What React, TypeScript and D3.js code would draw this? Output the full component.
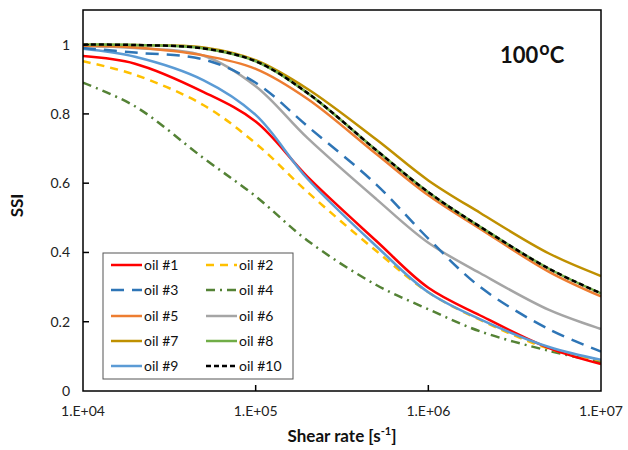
import React from "react";
import * as d3 from "d3";

const shearRates = [1e4, 2e4, 5e4, 1e5, 2e5, 5e5, 1e6, 2e6, 5e6, 1e7];
const oil1 = [0.967, 0.945, 0.863, 0.778, 0.618, 0.433, 0.298, 0.218, 0.124, 0.078];
const oil2 = [0.952, 0.913, 0.825, 0.715, 0.574, 0.404, 0.285, 0.205, 0.122, 0.088];
const oil3 = [0.99, 0.977, 0.957, 0.89, 0.764, 0.596, 0.44, 0.3, 0.178, 0.114];
const oil4 = [0.89, 0.822, 0.672, 0.562, 0.434, 0.306, 0.236, 0.172, 0.116, 0.083];
const oil5 = [0.997, 0.992, 0.969, 0.93, 0.843, 0.684, 0.565, 0.468, 0.344, 0.273];
const oil6 = [0.996, 0.99, 0.968, 0.88, 0.73, 0.554, 0.428, 0.34, 0.234, 0.179];
const oil7 = [1.0, 0.999, 0.992, 0.955, 0.872, 0.726, 0.608, 0.514, 0.397, 0.332];
const oil8 = [1.0, 0.999, 0.989, 0.952, 0.86, 0.695, 0.574, 0.474, 0.353, 0.282];
const oil9 = [0.988, 0.965, 0.897, 0.797, 0.612, 0.418, 0.285, 0.207, 0.127, 0.09];
const oil10 = [1.0, 0.999, 0.989, 0.952, 0.86, 0.695, 0.574, 0.474, 0.353, 0.282];

const seriesNames = ["oil #1", "oil #2", "oil #3", "oil #4", "oil #5", "oil #6", "oil #7", "oil #8", "oil #9", "oil #10"];
const seriesValues = [oil1, oil2, oil3, oil4, oil5, oil6, oil7, oil8, oil9, oil10];
const seriesColors = ["#FF0000", "#FFC000", "#2E75B6", "#548235", "#ED7D31", "#A5A5A5", "#BF9000", "#70AD47", "#5B9BD5", "#000000"];
const seriesDash = ["", "8,6", "13,8", "9,5,2,5", "", "", "", "", "", "5,3"];

const xTicks = [1e4, 1e5, 1e6, 1e7];
const xTickLabels = ["1.E+04", "1.E+05", "1.E+06", "1.E+07"];
const yTicks = [0, 0.2, 0.4, 0.6, 0.8, 1];
const yTickLabels = ["0", "0.2", "0.4", "0.6", "0.8", "1"];

// draw order: put black dashed over green
const drawOrder = [3, 1, 0, 8, 5, 2, 4, 6, 7, 9];

const W = 628, H = 450;
const L = 83, R = 601, T = 10, B = 391;
const font = "Lato, 'Open Sans', sans-serif";

export default function App() {
  const x = d3.scaleLog().domain([1e4, 1e7]).range([L, R]);
  const y = d3.scaleLinear().domain([0, 1.1]).range([B, T]);
  const line = d3
    .line<[number, number]>()
    .x((d) => x(d[0]))
    .y((d) => y(d[1]))
    .curve(d3.curveCatmullRom.alpha(0.5));

  const legX = [111, 206];
  const legRowY = [265, 290, 316, 341, 366];

  return (
    <svg width={W} height={H} style={{ position: "absolute", left: 0, top: 0 }} fontFamily={font}>
      <rect x={0} y={0} width={W} height={H} fill="#fff" />
      <defs>
        <clipPath id="plot">
          <rect x={L} y={T} width={R - L} height={B - T} />
        </clipPath>
      </defs>
      <g clipPath="url(#plot)">
        {drawOrder.map((i) => (
          <path
            key={i}
            d={line(shearRates.map((s, k) => [s, seriesValues[i][k]] as [number, number])) || ""}
            fill="none"
            stroke={seriesColors[i]}
            strokeWidth={2.5}
            strokeDasharray={seriesDash[i]}
          />
        ))}
      </g>
      <rect x={L} y={T} width={R - L} height={B - T} fill="none" stroke="#000" strokeWidth={1.5} />
      {yTicks.map((t, i) => (
        <g key={"y" + i}>
          {t > 0 && <line x1={L} x2={L + 6} y1={y(t)} y2={y(t)} stroke="#000" strokeWidth={1.5} />}
          <text x={70} y={y(t) + 5} textAnchor="end" fontSize={14} fill="#222">
            {yTickLabels[i]}
          </text>
        </g>
      ))}
      {xTicks.map((t, i) => (
        <g key={"x" + i}>
          {i > 0 && i < xTicks.length - 1 && (
            <line x1={x(t)} x2={x(t)} y1={B} y2={B - 6} stroke="#000" strokeWidth={1.5} />
          )}
          <text x={x(t)} y={416} textAnchor="middle" fontSize={14} fill="#222">
            {xTickLabels[i]}
          </text>
        </g>
      ))}
      <text transform={`translate(23,${(T + B) / 2 + 5}) rotate(-90)`} textAnchor="middle" fontSize={17} fontWeight="bold" fill="#111">
        SSI
      </text>
      <text x={(L + R) / 2} y={442} textAnchor="middle" fontSize={17} fontWeight="bold" fill="#111">
        Shear rate [s<tspan dy={-7} fontSize={11}>-1</tspan><tspan dy={7}>]</tspan>
      </text>
      <text x={500} y={63} fontSize={22} fontWeight="bold" fill="#111">
        100<tspan dx={1} dy={-8} fontSize={18}>o</tspan><tspan dy={8}>C</tspan>
      </text>
      <rect x={103} y={253} width={190} height={126} fill="#fff" stroke="#555" strokeWidth={1} />
      {seriesNames.map((n, i) => {
        const col = i % 2;
        const row = Math.floor(i / 2);
        const lx = legX[col];
        const ly = legRowY[row];
        return (
          <g key={"l" + i}>
            <line x1={lx} x2={lx + 31} y1={ly} y2={ly} stroke={seriesColors[i]} strokeWidth={2.5} strokeDasharray={seriesDash[i]} />
            <text x={lx + 33} y={ly + 5} fontSize={14} fill="#111">
              {n}
            </text>
          </g>
        );
      })}
    </svg>
  );
}
